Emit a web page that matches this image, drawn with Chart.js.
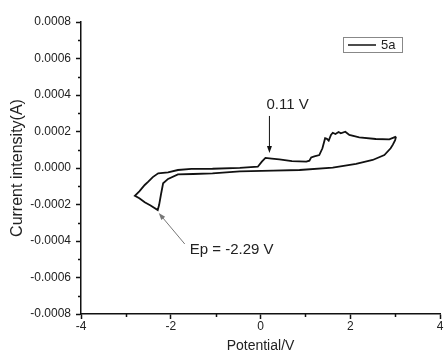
<!DOCTYPE html>
<html>
<head>
<meta charset="utf-8">
<script src="https://cdn.jsdelivr.net/npm/chart.js@4.4.1/dist/chart.umd.min.js"></script>
<style>
  html, body { margin: 0; padding: 0; background: #fff; }
  #wrap { width: 446px; height: 358px; }
</style>
</head>
<body>
<div id="wrap"><canvas id="cv"></canvas></div>
<script>
// cyclic voltammogram of 5a: cathodic sweep from +3.0 V down to -2.8 V, then back
const seriesName = "5a";
const potentialV = [
  3.02, 3.00, 2.95, 2.90, 2.76, 2.50, 2.13, 1.61, 0.87, 0.28, -0.46, -1.07, -1.50, -1.84,
  -2.06, -2.17, -2.22, -2.26, -2.29, -2.45, -2.58, -2.70, -2.80,
  -2.70, -2.58, -2.50, -2.40, -2.28, -2.06, -1.84, -1.54, -1.07, -0.46, -0.06, 0.03, 0.11,
  0.25, 0.42, 0.70, 1.02, 1.09, 1.13, 1.20, 1.31, 1.38, 1.44, 1.48, 1.52, 1.57, 1.61,
  1.67, 1.74, 1.79, 1.89, 1.98, 2.20, 2.57, 2.87, 3.02
];
const currentA = [
  0.000172, 0.000153, 0.000128, 0.000108, 0.000071, 0.000044, 0.000022, 0.000002, -0.000011,
  -0.000014, -0.000018, -0.000029, -0.000033, -0.000035,
  -0.000060, -0.000084, -0.000148, -0.000203, -0.000230, -0.000205, -0.000188, -0.000166, -0.000152,
  -0.000128, -0.000093, -0.000075, -0.000050, -0.000029, -0.000024, -0.000011, -0.000005,
  -0.000004, 0.000001, 0.000007, 0.000035, 0.000055,
  0.000051, 0.000047, 0.000038, 0.000035, 0.000040, 0.000058, 0.000064, 0.000071, 0.000108,
  0.000163, 0.000160, 0.000150, 0.000181, 0.000193,
  0.000186, 0.000197, 0.000190, 0.000199, 0.000181, 0.000168, 0.000159, 0.000157, 0.000172
];

// peak labels
const peakLabels = ["0.11 V", "Ep = -2.29 V"];
const peakV = [0.11, -2.29];
const peakA = [0.000055, -0.000230];

const xMinorTicks = [-3, -1, 1, 3];
const yMinorTicks = [-0.0007, -0.0005, -0.0003, -0.0001, 0.0001, 0.0003, 0.0005, 0.0007];

const points = potentialV.map((v, i) => ({ x: v, y: currentA[i] }));

function arrow(ctx, x0, y0, x1, y1, color) {
  const a = Math.atan2(y1 - y0, x1 - x0);
  ctx.strokeStyle = color;
  ctx.fillStyle = color;
  ctx.lineWidth = 1;
  ctx.beginPath();
  ctx.moveTo(x0, y0);
  ctx.lineTo(x1 - 5 * Math.cos(a), y1 - 5 * Math.sin(a));
  ctx.stroke();
  ctx.beginPath();
  ctx.moveTo(x1, y1);
  ctx.lineTo(x1 - 7 * Math.cos(a) + 2.5 * Math.sin(a), y1 - 7 * Math.sin(a) - 2.5 * Math.cos(a));
  ctx.lineTo(x1 - 7 * Math.cos(a) - 2.5 * Math.sin(a), y1 - 7 * Math.sin(a) + 2.5 * Math.cos(a));
  ctx.closePath();
  ctx.fill();
}

// short minor ticks, legend box and peak arrows
const extras = {
  id: "extras",
  afterDraw(chart) {
    const ctx = chart.ctx;
    const xs = chart.scales.x, ys = chart.scales.y;
    const area = chart.chartArea;
    ctx.save();
    ctx.strokeStyle = "#111";
    ctx.lineWidth = 1.5;
    ctx.beginPath();
    xMinorTicks.forEach(v => {
      const px = Math.round(xs.getPixelForValue(v)) + 0.5;
      ctx.moveTo(px, area.bottom);
      ctx.lineTo(px, area.bottom + 3);
    });
    yMinorTicks.forEach(v => {
      const py = Math.round(ys.getPixelForValue(v)) + 0.5;
      ctx.moveTo(area.left, py);
      ctx.lineTo(area.left - 3, py);
    });
    ctx.stroke();

    // legend
    const bx = area.right - 97, by = area.top + 15;
    ctx.strokeStyle = "#888";
    ctx.lineWidth = 1;
    ctx.strokeRect(bx + 0.5, by + 0.5, 59, 15);
    ctx.strokeStyle = "#111";
    ctx.lineWidth = 1.5;
    ctx.beginPath();
    ctx.moveTo(bx + 5, by + 8);
    ctx.lineTo(bx + 33, by + 8);
    ctx.stroke();
    ctx.fillStyle = "#222";
    ctx.font = "13px 'Liberation Sans', Arial, sans-serif";
    ctx.textBaseline = "middle";
    ctx.textAlign = "left";
    ctx.fillText(seriesName, bx + 38, by + 8.5);

    // oxidation peak
    ctx.font = "15px 'Liberation Sans', Arial, sans-serif";
    let px = xs.getPixelForValue(peakV[0]), py = ys.getPixelForValue(peakA[0]);
    arrow(ctx, px + 4, py - 42, px + 4, py - 5, "#111");
    ctx.fillStyle = "#222";
    ctx.fillText(peakLabels[0], px + 1, py - 53);

    // reduction peak
    px = xs.getPixelForValue(peakV[1]);
    py = ys.getPixelForValue(peakA[1]);
    arrow(ctx, px + 27, py + 34, px + 1, py + 3, "#777");
    ctx.fillStyle = "#222";
    ctx.fillText(peakLabels[1], px + 32, py + 40);
    ctx.restore();
  }
};

const font = "'Liberation Sans', Arial, sans-serif";

new Chart(document.getElementById("cv"), {
  type: "scatter",
  data: {
    datasets: [{
      label: seriesName,
      data: points,
      showLine: true,
      borderColor: "#111",
      borderWidth: 1.8,
      pointRadius: 0,
      tension: 0
    }]
  },
  options: {
    responsive: true,
    maintainAspectRatio: false,
    animation: false,
    layout: { padding: { top: 22, right: 6, left: 0, bottom: 0 } },
    plugins: {
      legend: { display: false },
      tooltip: { enabled: false }
    },
    scales: {
      x: {
        type: "linear",
        min: -4,
        max: 4,
        afterFit: s => { s.height = 44; },
        border: { display: true, color: "#111", width: 1.5 },
        grid: { drawOnChartArea: false, drawTicks: true, tickLength: 5, tickColor: "#111", tickWidth: 1.5 },
        ticks: { stepSize: 2, padding: 0, color: "#222", font: { family: font, size: 12 } },
        title: { display: true, text: "Potential/V", color: "#222", padding: { top: 0, bottom: 3 }, font: { family: font, size: 14 } }
      },
      y: {
        type: "linear",
        min: -0.0008,
        max: 0.0008,
        afterFit: s => { s.width = 81; },
        border: { display: true, color: "#111", width: 1.5 },
        grid: { drawOnChartArea: false, drawTicks: true, tickLength: 5, tickColor: "#111", tickWidth: 1.5 },
        ticks: {
          stepSize: 0.0002,
          padding: 5,
          color: "#222",
          font: { family: font, size: 12 },
          callback: v => Math.abs(v) < 1e-9 ? "0.0000" : v.toFixed(4)
        },
        title: { display: true, text: "Current intensity(A)", color: "#222", padding: { top: 8, bottom: 0 }, font: { family: font, size: 16 } }
      }
    }
  },
  plugins: [extras]
});
</script>
</body>
</html>
